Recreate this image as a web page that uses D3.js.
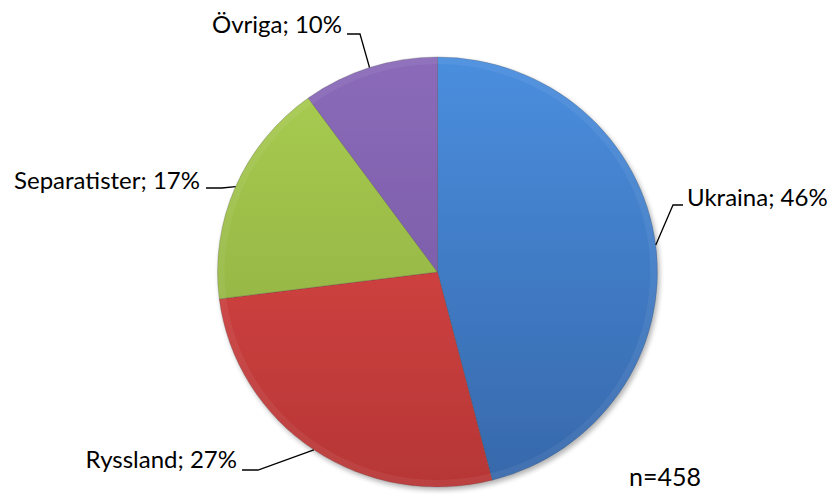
<!DOCTYPE html>
<html>
<head>
<meta charset="utf-8">
<script src="https://cdn.jsdelivr.net/npm/d3@7"></script>
<style>
  body { margin: 0; background: #fff; }
  text { font-family: Lato, "Open Sans", sans-serif; fill: #000; }
</style>
</head>
<body>
<div id="chart"></div>
<script>
// data
var categories = ["Ukraina", "Ryssland", "Separatister", "Övriga"];
var values = [46, 27, 17, 10];
var sampleNote = "n=458";

// colours (top / bottom of gradient)
var colorsTop = ["#4a8ede", "#e24a48", "#a9cd52", "#8a6ab9"];
var colorsBottom = ["#3768ab", "#b73636", "#8aa83c", "#72569f"];

// label layout: where the text sits and the elbow of the leader line
var labelLayout = [
  {x: 687, y: 206, anchor: "start", elbowX: 673, elbowEnd: 683, elbowY: 205},
  {x: 237, y: 468, anchor: "end", elbowX: 258, elbowEnd: 242, elbowY: 470},
  {x: 200, y: 189, anchor: "end", elbowX: 222, elbowEnd: 206, elbowY: 188},
  {x: 342, y: 33, anchor: "end", elbowX: 360, elbowEnd: 347, elbowY: 34}
];

var width = 833, height = 494;
var cx = 437.5, cy = 272, ry = 215, rx = 220;
var sx = rx / ry;

var svg = d3.select("#chart").append("svg")
    .attr("width", width)
    .attr("height", height);

var defs = svg.append("defs");

categories.forEach(function(c, i) {
  var g = defs.append("linearGradient")
      .attr("id", "grad" + i)
      .attr("gradientUnits", "userSpaceOnUse")
      .attr("x1", 0).attr("y1", -ry)
      .attr("x2", 0).attr("y2", ry);
  g.append("stop").attr("offset", "0%").attr("stop-color", colorsTop[i]);
  g.append("stop").attr("offset", "100%").attr("stop-color", colorsBottom[i]);
});

var shadow = defs.append("filter").attr("id", "shadow")
    .attr("x", "-10%").attr("y", "-10%").attr("width", "120%").attr("height", "120%");
shadow.append("feGaussianBlur").attr("in", "SourceAlpha").attr("stdDeviation", 2.5);
shadow.append("feOffset").attr("dx", 2).attr("dy", 3).attr("result", "off");
shadow.append("feComponentTransfer").append("feFuncA").attr("type", "linear").attr("slope", 0.3);
var merge = shadow.append("feMerge");
merge.append("feMergeNode");
merge.append("feMergeNode").attr("in", "SourceGraphic");

var pie = d3.pie().sort(null).value(function(d) { return d; });
var arcs = pie(values);

var arc = d3.arc().innerRadius(0).outerRadius(ry);
var bevel = d3.arc().innerRadius(ry - 7).outerRadius(ry);

var g = svg.append("g")
    .attr("transform", "translate(" + cx + "," + cy + ") scale(" + sx + ",1)");

g.append("g").attr("filter", "url(#shadow)")
  .selectAll("path")
  .data(arcs)
  .enter()
  .append("path")
    .attr("d", arc)
    .attr("fill", function(d, i) { return "url(#grad" + i + ")"; })
    .attr("stroke", "rgba(60,60,60,0.3)")
    .attr("stroke-width", 0.8);

// soft bevel along the rim
g.selectAll(".bevel")
  .data(arcs)
  .enter()
  .append("path")
    .attr("class", "bevel")
    .attr("d", bevel)
    .attr("fill", "rgba(255,255,255,0.06)");

// leader lines
var pts = arcs.map(function(d) {
  var a = (d.startAngle + d.endAngle) / 2;
  return [cx + rx * Math.sin(a), cy - ry * Math.cos(a)];
});

svg.selectAll(".leader")
  .data(arcs)
  .enter()
  .append("polyline")
    .attr("class", "leader")
    .attr("points", function(d, i) {
      var l = labelLayout[i];
      return pts[i][0] + "," + pts[i][1] + " " + l.elbowX + "," + l.elbowY + " " + l.elbowEnd + "," + l.elbowY;
    })
    .attr("fill", "none")
    .attr("stroke", "#000")
    .attr("stroke-width", 1.3);

svg.selectAll(".label")
  .data(arcs)
  .enter()
  .append("text")
    .attr("class", "label")
    .attr("x", function(d, i) { return labelLayout[i].x; })
    .attr("y", function(d, i) { return labelLayout[i].y; })
    .attr("text-anchor", function(d, i) { return labelLayout[i].anchor; })
    .style("font-size", "24px")
    .text(function(d, i) { return categories[i] + "; " + d.data + "%"; });

svg.append("text")
    .attr("x", 629)
    .attr("y", 486)
    .style("font-size", "25px")
    .text(sampleNote);
</script>
</body>
</html>
